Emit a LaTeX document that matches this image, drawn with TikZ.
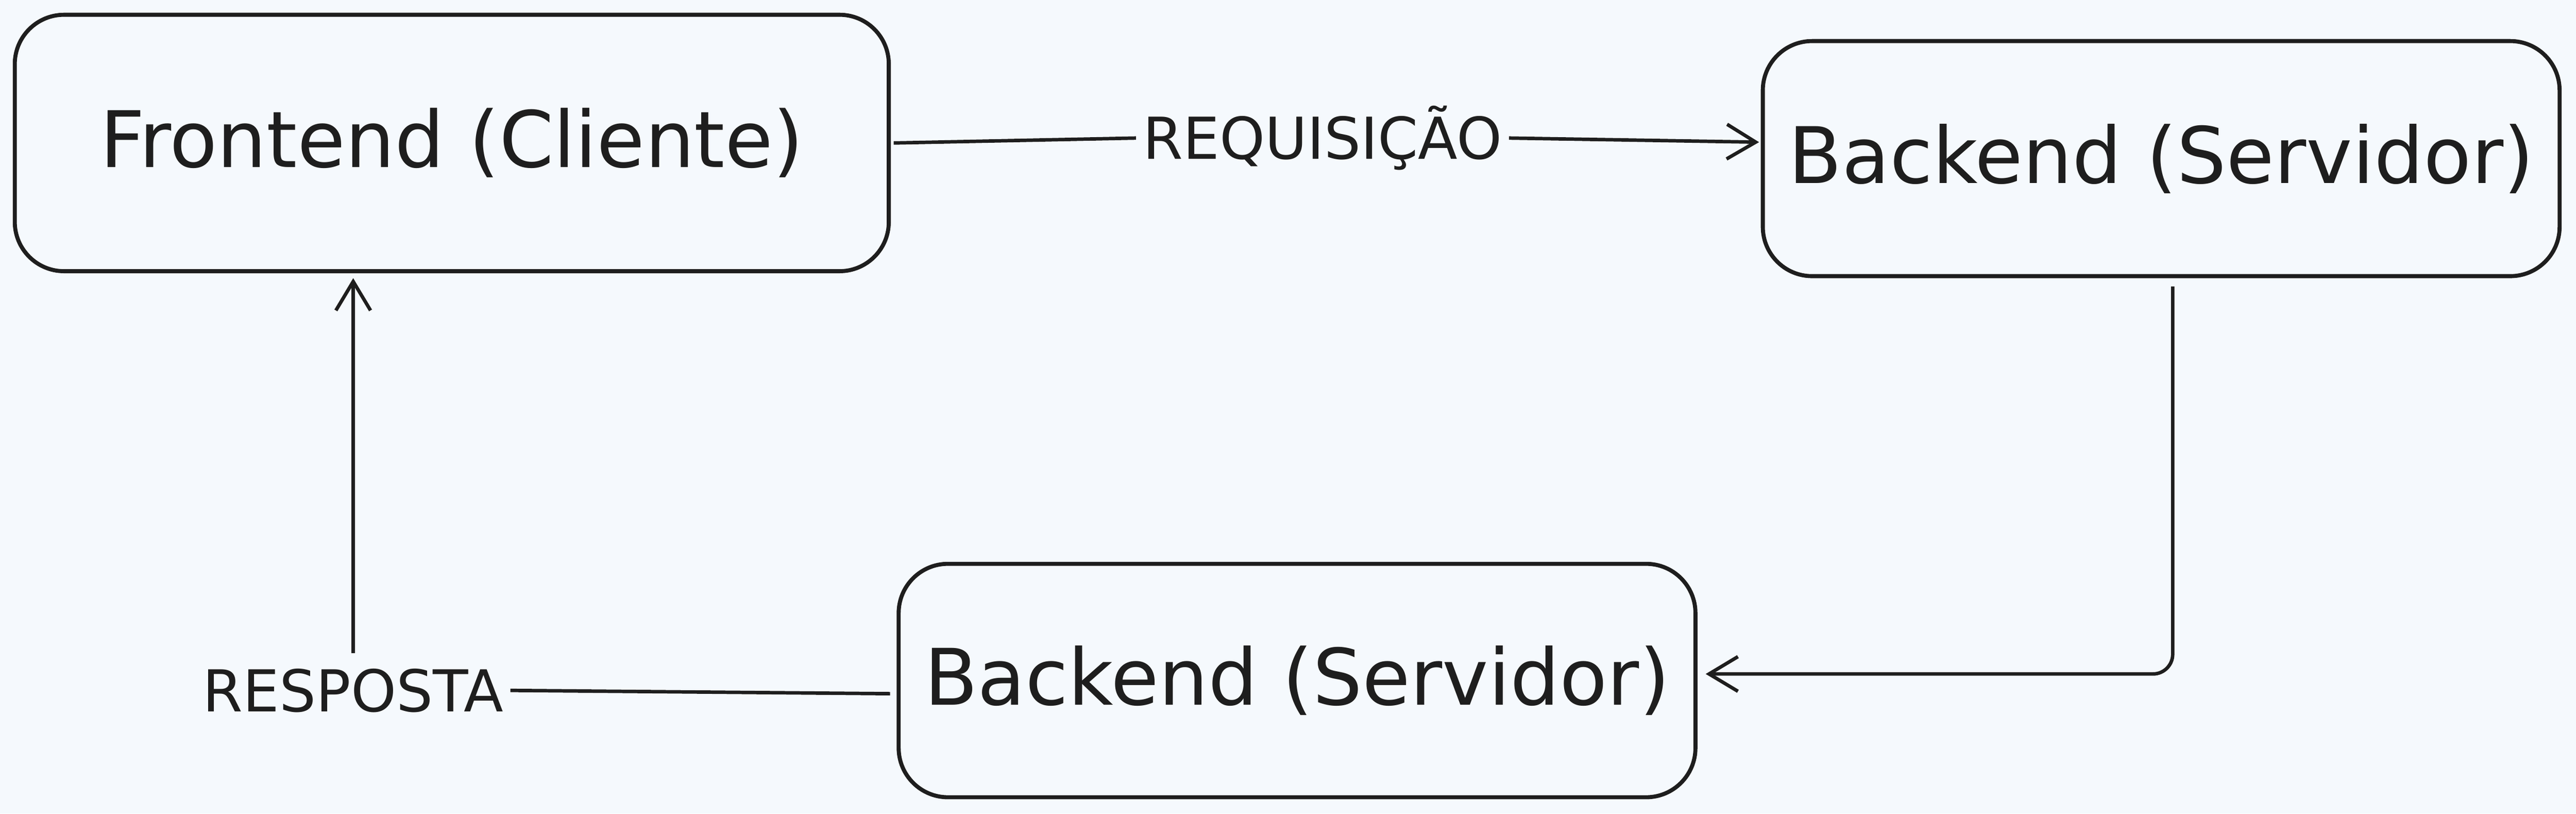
\documentclass[tikz,border=0pt]{standalone}
\usepackage{fontspec}
\setmainfont{DejaVu Sans}
\usetikzlibrary{arrows.meta}
\definecolor{bgcol}{HTML}{F5F9FD}
\definecolor{inkcol}{HTML}{1E1E1E}
\tikzset{
  box/.style={draw=inkcol, line width=0.7pt, rounded corners=0.3cm, inner sep=0pt, font=\fontsize{13.5}{16}\selectfont, text=inkcol},
  lbl/.style={fill=bgcol, inner sep=1pt, font=\fontsize{10}{12}\selectfont, text=inkcol},
  conn/.style={draw=inkcol, line width=0.6pt},
  tip/.style={-{Straight Barb[length=5pt,width=6pt]}}
}
\begin{document}
\begin{tikzpicture}[x=1cm,y=1cm]
		%background
		\fill[bgcol] (0,0) rectangle (15.68,-4.95);
		\useasboundingbox (0,0) rectangle (15.68,-4.95);
		
		%boxes
		\node[box, minimum width=5.32cm, minimum height=1.56cm] (front) at (2.75,-0.87) {Frontend (Cliente)};
		\node[box, minimum width=4.85cm, minimum height=1.43cm] (backtop) at (13.155,-0.965) {Backend (Servidor)};
		\node[box, minimum width=4.85cm, minimum height=1.42cm] (backbot) at (7.895,-4.14) {Backend (Servidor)};
		
		%labels
		\node[lbl] (req) at (8.05,-0.84) {REQUISIÇÃO};
		\node[lbl] (resp) at (2.15,-4.2) {RESPOSTA};
		
		%connectors
		\draw[conn] ([xshift=0.5pt]front.east) -- (req.west);
		\draw[conn, tip] (req.east) -- ([xshift=-0.3pt,yshift=0.1cm]backtop.west);
		\draw[conn, tip, rounded corners=0.12cm] ([xshift=0.07cm,yshift=-0.05cm]backtop.south) |- ([xshift=0.05cm,yshift=0.04cm]backbot.east);
		\draw[conn] ([xshift=-0.04cm,yshift=-0.08cm]backbot.west) -- (resp.east);
		\draw[conn, tip] ([xshift=0.0cm,yshift=0.05cm]resp.north) -- ([yshift=-0.03cm]front.south -| resp.north);
\end{tikzpicture}
\end{document}
